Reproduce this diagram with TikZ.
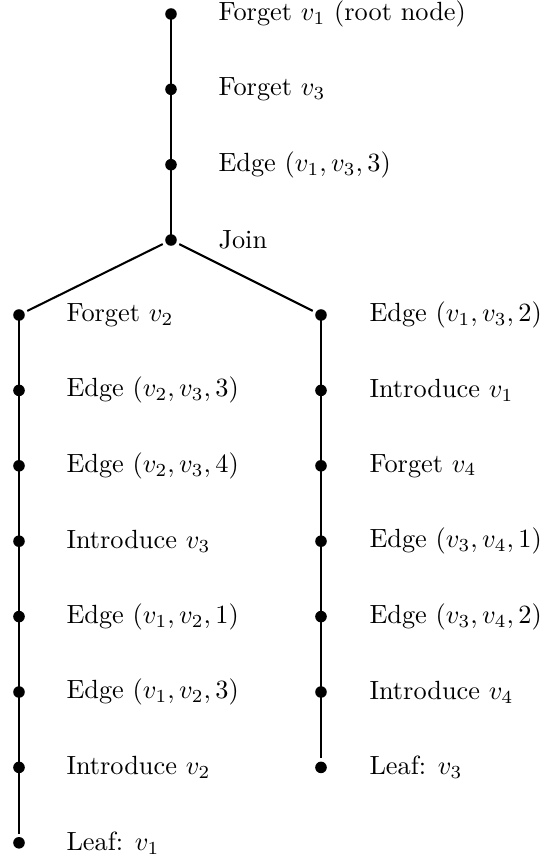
\documentclass[tikz,border=0pt]{standalone}
\begin{document}
\begin{tikzpicture}[x=0.38pt,y=-0.38pt,
  dot/.style={circle,fill=black,inner sep=0pt,minimum size=4.4pt,outer sep=1.3pt},
  lbl/.style={anchor=west,inner sep=0pt},
  conn/.style={line width=0.78pt}]
\useasboundingbox (0,0) rectangle (540,862);
% main trunk
\node[dot] (r0) at (171,14) {};
\node[dot] (r1) at (171,89.3) {};
\node[dot] (r2) at (171,164.7) {};
\node[dot] (j)  at (171,240) {};
% left branch
\foreach \i in {1,...,8} { \node[dot] (l\i) at (19,{315+(\i-1)*75.4}) {}; }
% right branch
\foreach \i in {1,...,7} { \node[dot] (q\i) at (321,{315+(\i-1)*75.4}) {}; }

\draw[conn] (r0.center) -- (r1.center) -- (r2.center) -- (j.center);
\draw[conn] (j) -- (l1);
\draw[conn] (j) -- (q1);
\draw[conn] (l1.center) -- (l7.center) -- (l8);
\draw[conn] (q1.center) -- (q6.center) -- (q7);

\node[lbl] (tr0) at (218,14) {Forget $v_1$ (root node)};
\node[lbl] (tr1) at (218,89.3) {Forget $v_3$};
\node[lbl] (tr2) at (218,164.7) {Edge $(v_1,v_3,3)$};
\node[lbl] (tj)  at (218,240) {Join};

\node[lbl] (tl1) at (66,{315+0*75.4}) {Forget $v_2$};
\node[lbl] (tl2) at (66,{315+1*75.4}) {Edge $(v_2,v_3,3)$};
\node[lbl] (tl3) at (66,{315+2*75.4}) {Edge $(v_2,v_3,4)$};
\node[lbl] (tl4) at (66,{315+3*75.4}) {Introduce $v_3$};
\node[lbl] (tl5) at (66,{315+4*75.4}) {Edge $(v_1,v_2,1)$};
\node[lbl] (tl6) at (66,{315+5*75.4}) {Edge $(v_1,v_2,3)$};
\node[lbl] (tl7) at (66,{315+6*75.4}) {Introduce $v_2$};
\node[lbl] (tl8) at (66,{315+7*75.4}) {Leaf: $v_1$};

\node[lbl] (tq1) at (369,{315+0*75.4}) {Edge $(v_1,v_3,2)$};
\node[lbl] (tq2) at (369,{315+1*75.4}) {Introduce $v_1$};
\node[lbl] (tq3) at (369,{315+2*75.4}) {Forget $v_4$};
\node[lbl] (tq4) at (369,{315+3*75.4}) {Edge $(v_3,v_4,1)$};
\node[lbl] (tq5) at (369,{315+4*75.4}) {Edge $(v_3,v_4,2)$};
\node[lbl] (tq6) at (369,{315+5*75.4}) {Introduce $v_4$};
\node[lbl] (tq7) at (369,{315+6*75.4}) {Leaf: $v_3$};
\end{tikzpicture}
\end{document}
